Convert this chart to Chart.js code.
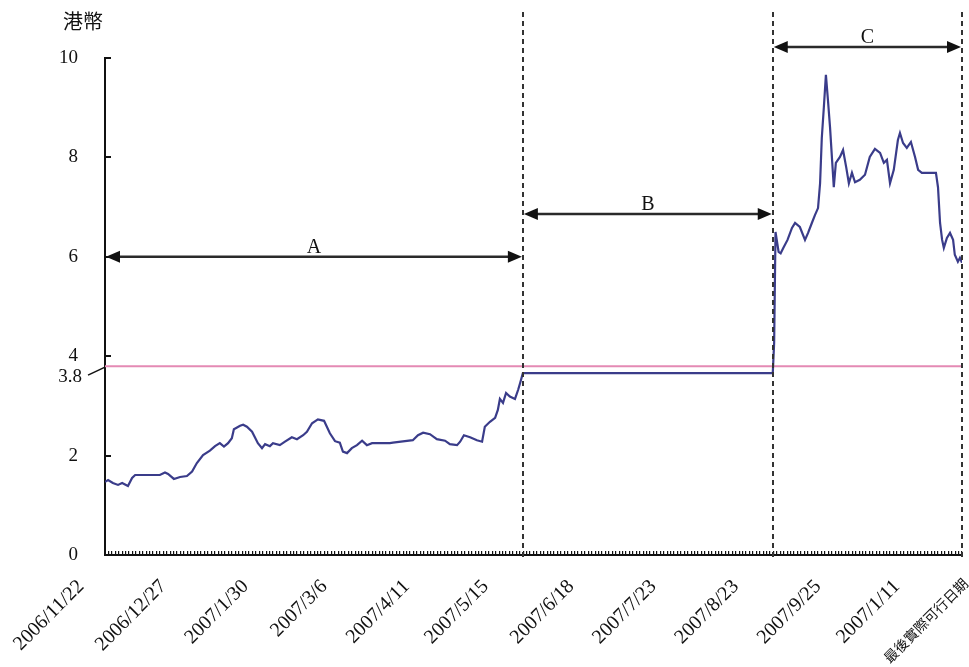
<!DOCTYPE html>
<html>
<head>
<meta charset="utf-8">
<script src="https://cdn.jsdelivr.net/npm/chart.js@4.4.0/dist/chart.umd.min.js"></script>
<style>
html, body { margin: 0; background: #fff; }
#wrap { width: 969px; height: 667px; }
</style>
</head>
<body>
<div id="wrap"><canvas id="chart"></canvas></div>
<script>
// trading-day index on the x axis, price in HK$ on the y axis
const priceDays = [0, 0.9, 2.3, 3.8, 5.0, 6.7, 7.9, 8.8, 16.0, 17.5, 18.4, 20.1, 21.9, 23.9, 25.4, 26.8, 28.6, 30.6, 32.1, 33.5,
    34.7, 35.9, 37.0, 37.6, 39.4, 40.3, 41.4, 42.9, 44.6, 45.8, 46.7, 48.1, 49.0, 51.0, 52.5, 54.5, 56.0, 57.8, 58.9, 60.4,
    62.1, 63.9, 65.6, 67.1, 68.5, 69.4, 70.6, 72.0, 73.5, 75.0, 76.4, 77.9, 83.1, 84.0, 87.5, 89.8, 91.3, 92.8, 94.8, 96.8,
    99.2, 100.6, 102.7, 103.6, 104.7, 106.5, 108.5, 110.0, 110.8, 112.3, 113.8, 114.6, 115.2, 116.1, 117.0, 118.1, 119.6, 120.5, 121.1, 121.9,
    194.8,
    195.2, 195.6, 196.5, 197.1, 197.9, 199.1, 200.4, 201.3, 202.7, 204.2, 205.1, 206.2, 207.1, 208.0, 208.6, 209.1, 209.7, 210.3, 210.9, 211.5,
    212.1, 212.6, 213.2, 214.4, 215.3, 216.2, 217.0, 217.9, 218.8, 220.2, 221.7, 223.1, 224.6, 226.1, 227.2, 228.1, 229.0, 230.1, 231.3, 231.9,
    232.8, 233.9, 235.1, 236.3, 237.2, 238.3, 242.4, 243.0, 243.6, 244.2, 244.7, 245.6, 246.5, 247.4, 247.9, 248.8, 249.4, 250];
const priceValues = [1.47, 1.51, 1.45, 1.41, 1.45, 1.39, 1.55, 1.61, 1.61, 1.66, 1.63, 1.53, 1.57, 1.59, 1.68, 1.85, 2.01, 2.10, 2.19, 2.25,
    2.18, 2.25, 2.35, 2.53, 2.60, 2.62, 2.58, 2.48, 2.25, 2.15, 2.23, 2.19, 2.25, 2.21, 2.28, 2.37, 2.33, 2.41, 2.48, 2.65,
    2.73, 2.70, 2.45, 2.29, 2.26, 2.08, 2.05, 2.15, 2.21, 2.30, 2.21, 2.25, 2.25, 2.26, 2.29, 2.31, 2.41, 2.46, 2.43, 2.33,
    2.30, 2.23, 2.21, 2.28, 2.41, 2.37, 2.31, 2.28, 2.58, 2.68, 2.76, 2.92, 3.14, 3.06, 3.26, 3.19, 3.14, 3.32, 3.46, 3.66,
    3.66,
    4.27, 6.50, 6.10, 6.07, 6.18, 6.34, 6.58, 6.68, 6.60, 6.34, 6.48, 6.68, 6.84, 6.98, 7.48, 8.39, 9.01, 9.66, 9.15, 8.61,
    7.95, 7.40, 7.89, 8.01, 8.15, 7.81, 7.48, 7.69, 7.50, 7.55, 7.65, 8.01, 8.17, 8.09, 7.89, 7.95, 7.48, 7.75, 8.35, 8.49,
    8.29, 8.19, 8.31, 8.01, 7.75, 7.69, 7.69, 7.40, 6.68, 6.34, 6.18, 6.38, 6.48, 6.34, 6.04, 5.90, 5.98, 5.88];
const lastDay = 250;
const thresholdValue = 3.8;

const tickDays = [0, 24, 48, 71, 95, 118, 143, 167, 191, 215, 238, 258];
const tickLabels = ["2006/11/22", "2006/12/27", "2007/1/30", "2007/3/6", "2007/4/11", "2007/5/15",
    "2007/6/18", "2007/7/23", "2007/8/23", "2007/9/25", "2007/1/11", "最後實際可行日期"];
const yTicks = [0, 2, 4, 6, 8, 10];

const periodNames = ["A", "B", "C"];
const periodStarts = [0, 121.9, 194.8];
const periodEnds = [121.9, 194.8, 250];
const periodArrowLevels = [6, 6.86, 10.22];

const annotations = {
    id: "annotations",
    afterDatasetsDraw(chart) {
        const { ctx, chartArea, scales: { x, y } } = chart;
        ctx.save();

        // dashed period dividers
        ctx.strokeStyle = "#333";
        ctx.lineWidth = 2;
        ctx.setLineDash([5, 4]);
        periodEnds.forEach(d => {
            const px = Math.round(x.getPixelForValue(d));
            ctx.beginPath();
            ctx.moveTo(px, 12);
            ctx.lineTo(px, chartArea.bottom + 2);
            ctx.stroke();
        });
        ctx.setLineDash([]);

        // double arrows with the period letter
        const head = (px, py, dir) => {
            ctx.beginPath();
            ctx.moveTo(px, py);
            ctx.lineTo(px + dir * 14, py - 6);
            ctx.lineTo(px + dir * 14, py + 6);
            ctx.closePath();
            ctx.fill();
        };
        periodNames.forEach((name, i) => {
            const x1 = x.getPixelForValue(periodStarts[i]);
            const x2 = x.getPixelForValue(periodEnds[i]);
            const py = y.getPixelForValue(periodArrowLevels[i]);
            ctx.strokeStyle = "#2a2a2a";
            ctx.lineWidth = 2.5;
            ctx.beginPath();
            ctx.moveTo(x1 + 10, py);
            ctx.lineTo(x2 - 10, py);
            ctx.stroke();
            ctx.fillStyle = "#111";
            head(x1 + 1, py, 1);
            head(x2 - 1, py, -1);
            ctx.font = "20px 'Liberation Serif'";
            ctx.textAlign = "center";
            ctx.textBaseline = "alphabetic";
            ctx.fillText(name, (x1 + x2) / 2, py - 4);
        });

        // 3.8 label with its leader line
        const yv = y.getPixelForValue(thresholdValue);
        ctx.fillStyle = "#111";
        ctx.font = "19px 'Liberation Serif'";
        ctx.textAlign = "right";
        ctx.textBaseline = "middle";
        ctx.fillText("3.8", chartArea.left - 23, yv + 11);
        ctx.strokeStyle = "#111";
        ctx.lineWidth = 1.5;
        ctx.beginPath();
        ctx.moveTo(chartArea.left - 17, yv + 9);
        ctx.lineTo(chartArea.left, yv + 1);
        ctx.stroke();

        // unit label above the y axis
        ctx.font = "20px 'Noto Sans CJK TC'";
        ctx.textAlign = "left";
        ctx.textBaseline = "middle";
        ctx.fillText("港幣", 63, 21);
        ctx.restore();
    }
};

new Chart(document.getElementById("chart"), {
    type: "line",
    data: {
        datasets: [
            {
                data: priceDays.map((d, i) => ({ x: d, y: priceValues[i] })),
                xAxisID: "x",
                borderColor: "#3a3c8a",
                borderWidth: 2.2,
                pointRadius: 0,
                tension: 0
            },
            {
                data: [{ x: 0, y: thresholdValue }, { x: lastDay, y: thresholdValue }],
                xAxisID: "x",
                borderColor: "#e48ab4",
                borderWidth: 2,
                pointRadius: 0
            }
        ]
    },
    options: {
        responsive: true,
        maintainAspectRatio: false,
        animation: false,
        layout: { padding: { left: 0, right: 7, top: 58, bottom: 0 } },
        plugins: { legend: { display: false }, tooltip: { enabled: false } },
        scales: {
            x: {
                type: "linear",
                position: "bottom",
                weight: 1,
                min: 0,
                max: lastDay,
                afterBuildTicks: s => { s.ticks = tickDays.map(v => ({ value: v })); },
                afterFit: s => { s.height = 112; s.paddingLeft = 0; s.paddingRight = 0; },
                grid: { display: false, drawTicks: false },
                border: { display: true, color: "#111", width: 2 },
                ticks: {
                    autoSkip: false,
                    minRotation: 45,
                    maxRotation: 45,
                    padding: 20,
                    labelOffset: -24,
                    color: "#111",
                    callback: (v, i) => tickLabels[i],
                    font: c => c.index === tickLabels.length - 1
                        ? { family: "'Noto Sans CJK TC'", size: 14 }
                        : { family: "'Liberation Serif'", size: 20 }
                }
            },
            xm: {
                type: "linear",
                axis: "x",
                position: "bottom",
                weight: 0,
                min: 0,
                max: lastDay,
                afterFit: s => { s.height = 0; s.paddingLeft = 0; s.paddingRight = 0; },
                grid: { drawOnChartArea: false, tickLength: -4, color: "#111", lineWidth: 1.2 },
                border: { display: false },
                ticks: { display: false, stepSize: 1, maxTicksLimit: 1000, autoSkip: false }
            },
            y: {
                min: 0,
                max: 10,
                afterFit: s => { s.width = 105; },
                afterBuildTicks: s => { s.ticks = yTicks.map(v => ({ value: v })); },
                grid: { drawOnChartArea: false, tickLength: -6, color: "#111", lineWidth: 2 },
                border: { color: "#111", width: 2 },
                ticks: { padding: 33, color: "#111", font: { family: "'Liberation Serif'", size: 19 } }
            }
        }
    },
    plugins: [annotations]
});
</script>
</body>
</html>
